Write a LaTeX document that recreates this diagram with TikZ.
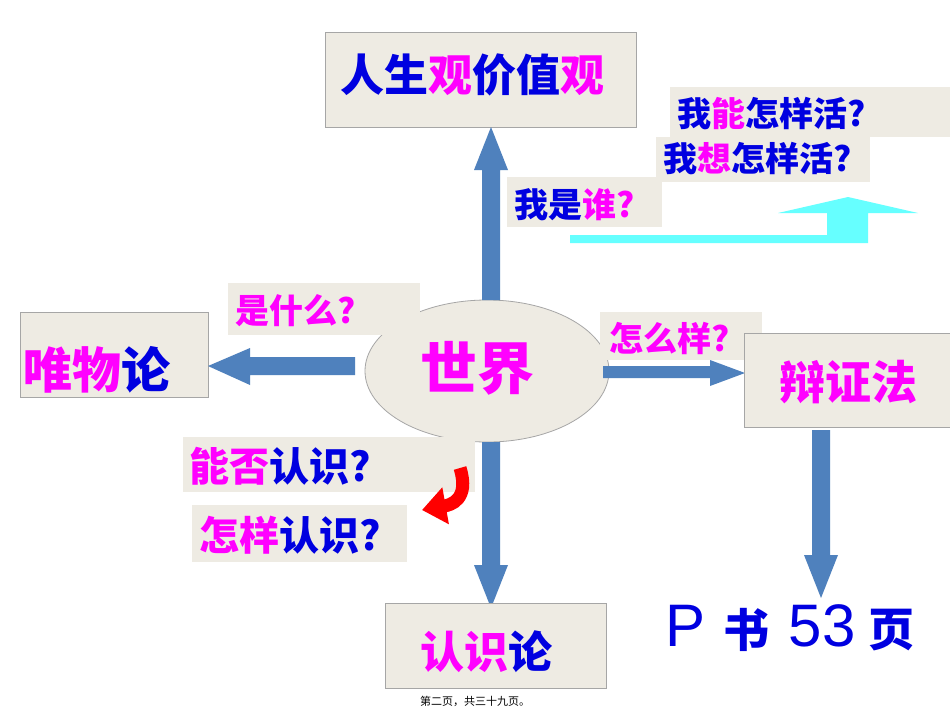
\documentclass[tikz,border=0pt]{standalone}
\usepackage{fontspec}
\setmainfont{Liberation Sans}
\newfontfamily\cjk{Noto Sans CJK SC}
\usetikzlibrary{arrows.meta,shapes.geometric}
\definecolor{bx}{HTML}{EEEBE3}
\definecolor{bl}{HTML}{0000E0}
\definecolor{mg}{HTML}{FF00FF}
\definecolor{ar}{HTML}{4F81BD}
\definecolor{cy}{HTML}{66FFFF}
\begin{document}
\begin{tikzpicture}[x=1pt,y=-1pt,
  lbl/.style={fill=bx,inner sep=0pt,font=\cjk\bfseries},
  bbox/.style={fill=bx,draw=gray!70,line width=0.8pt},
  txt/.style={inner sep=0pt,font=\cjk\bfseries}]
\useasboundingbox (0,0) rectangle (950,713);
\fill[white] (0,0) rectangle (950,713);
% boxes
\node[bbox,minimum width=311pt,minimum height=95pt] (rsg) at (480.5,79.5) {};
\node[txt,font=\cjk\bfseries\fontsize{44}{44}\selectfont,anchor=west] at (340,75) {\textcolor{bl}{人生}\textcolor{mg}{观}\textcolor{bl}{价值}\textcolor{mg}{观}};
\node[lbl,minimum width=280pt,minimum height=50pt] (neng) at (810,112) {};
\node[txt,font=\cjk\bfseries\fontsize{34}{34}\selectfont,anchor=west] at (677,114) {\textcolor{bl}{我}\textcolor{mg}{能}\textcolor{bl}{怎样活?}};
\node[lbl,minimum width=214pt,minimum height=45pt] (xiang) at (763,159.5) {};
\node[txt,font=\cjk\bfseries\fontsize{34}{34}\selectfont,anchor=west] at (663,159) {\textcolor{bl}{我}\textcolor{mg}{想}\textcolor{bl}{怎样活?}};
\node[lbl,minimum width=155pt,minimum height=50pt] (shui) at (584.5,202) {};
\node[txt,font=\cjk\bfseries\fontsize{34}{34}\selectfont,anchor=west] at (514,205) {\textcolor{bl}{我是}\textcolor{mg}{谁?}};
% cyan arrow
\fill[cy] (570,235) -- (827,235) -- (827,213) -- (778,213) -- (848,197) -- (918,213) -- (868,213) -- (868,243) -- (570,243) -- cycle;
% ellipse
\node[ellipse,draw=gray!70,fill=bx,minimum width=244pt,minimum height=142pt,line width=0.8pt] (sj) at (487,371) {};
% vertical arrows
\fill[ar] (482,300) -- (482,170) -- (474,170) -- (491,127) -- (508,170) -- (500,170) -- (500,300) -- cycle;
\fill[ar] (482,442) -- (482,565) -- (474,565) -- (491,608) -- (508,565) -- (500,565) -- (500,442) -- cycle;
\node[txt,font=\cjk\bfseries\fontsize{57}{57}\selectfont,text=mg] at (477,368) {世界};
% left
\node[lbl,minimum width=192pt,minimum height=52pt] (shm) at (324,309) {};
\node[txt,font=\cjk\bfseries\fontsize{34}{34}\selectfont,anchor=west,text=mg] at (235,311) {是什么?};
\node[bbox,minimum width=188pt,minimum height=85pt] (wwl) at (114,354.5) {};
\node[txt,font=\cjk\bfseries\fontsize{49}{49}\selectfont,anchor=west] at (23,370) {\textcolor{mg}{唯物}\textcolor{bl}{论}};
\fill[ar] (355,357) -- (250,357) -- (250,348) -- (208,366) -- (250,385) -- (250,375) -- (355,375) -- cycle;
% right
\node[lbl,minimum width=162pt,minimum height=48pt] (zmy) at (681,336) {};
\node[txt,font=\cjk\bfseries\fontsize{34}{34}\selectfont,anchor=west,text=mg] at (609,338) {怎么样?};
\fill[ar] (603,366) -- (710,366) -- (710,360) -- (745,373) -- (710,386) -- (710,378) -- (603,378) -- cycle;
\node[bbox,minimum width=206pt,minimum height=94pt] (bzf) at (847,380) {};
\node[txt,font=\cjk\bfseries\fontsize{46}{46}\selectfont,text=mg] at (848,382) {辩证法};
\fill[ar] (812,430) -- (812,555) -- (804,555) -- (821,598) -- (838,555) -- (830,555) -- (830,430) -- cycle;
\node[inner sep=0pt,text=bl,font=\fontsize{60}{60}\selectfont] (p) at (686,626) {P};
\node[txt,text=bl,font=\cjk\bfseries\fontsize{46}{46}\selectfont] (shu) at (746,630) {书};
\node[inner sep=0pt,text=bl,font=\fontsize{60}{60}\selectfont] (n53) at (822,626) {53};
\node[txt,text=bl,font=\cjk\bfseries\fontsize{46}{46}\selectfont] (ye) at (891,630) {页};
% bottom left
\node[lbl,minimum width=292pt,minimum height=55pt] (nf) at (329,464.5) {};
\node[txt,font=\cjk\bfseries\fontsize{40}{40}\selectfont,anchor=west] at (189,466) {\textcolor{mg}{能否}\textcolor{bl}{认识?}};
\node[lbl,minimum width=215pt,minimum height=57pt] (zy) at (299.5,533.5) {};
\node[txt,font=\cjk\bfseries\fontsize{40}{40}\selectfont,anchor=west] at (199,535) {\textcolor{mg}{怎样}\textcolor{bl}{认识?}};
\draw[red,line width=13pt,-{Triangle[length=24pt,width=36pt]}] (460,468) .. controls (470,500) and (450,505) .. (422,510);
\node[bbox,minimum width=221pt,minimum height=85pt] (rsl) at (495.5,645.5) {};
\node[txt,font=\cjk\bfseries\fontsize{44}{44}\selectfont] at (486,652) {\textcolor{mg}{认识}\textcolor{bl}{论}};
\node[txt,font=\cjk\fontsize{11}{11}\selectfont] at (475,701) {第二页，共三十九页。};
\end{tikzpicture}
\end{document}
